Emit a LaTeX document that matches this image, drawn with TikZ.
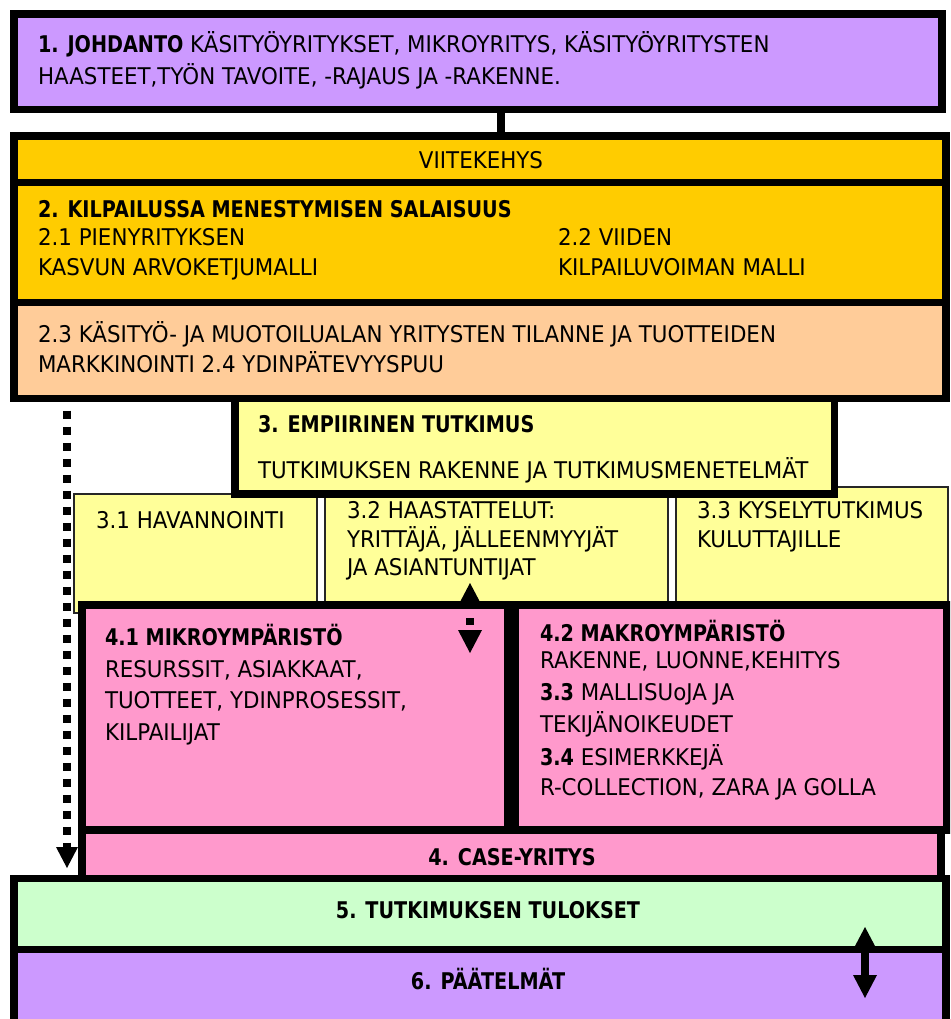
\documentclass[tikz,border=0pt]{standalone}
\usepackage{fontspec}
\newfontfamily\rf{DejaVu Sans}[FakeStretch=0.93]
\newfontfamily\bff{DejaVu Sans Bold}[FakeStretch=0.835]
\usetikzlibrary{arrows.meta}
\definecolor{lilac}{HTML}{CC99FF}
\definecolor{amber}{HTML}{FFCC00}
\definecolor{peach}{HTML}{FFCC99}
\definecolor{paleyellow}{HTML}{FFFF99}
\definecolor{rosepink}{HTML}{FF99CC}
\definecolor{mint}{HTML}{CCFFCC}
\newcommand\hb[1]{{\bff #1}}

\begin{document}
\begin{tikzpicture}[x=1pt,y=-1pt,
  frame/.style={draw=black, line width=7.5pt, inner sep=0pt, outer sep=0pt, anchor=north west},
  subbox/.style={draw=black!85, line width=1.5pt, fill=paleyellow, inner sep=0pt, outer sep=0pt, anchor=north west},
  txt/.style={anchor=base west, inner sep=0pt, outer sep=0pt, font=\rf\fontsize{23}{27}\selectfont},
  ctxt/.style={txt, anchor=base},
]
\useasboundingbox (0,0) rectangle (950,1019);
\clip (0,0) rectangle (950,1019);

% chapter 1
\node[frame, fill=lilac, minimum width=928pt, minimum height=95.5pt] (b1) at (14,14) {};
% framework block
\node[frame, fill=amber, minimum width=932pt, minimum height=46.5pt] (viite) at (14,136) {};
\node[frame, fill=amber, minimum width=932pt, minimum height=120pt] (s2) at (14,182.5) {};
\node[frame, fill=peach, minimum width=932pt, minimum height=96pt] (s23) at (14,302.5) {};
% empirical sub-boxes
\node[subbox, minimum width=243pt, minimum height=119pt] (b31) at (74,494) {};
\node[subbox, minimum width=343pt, minimum height=114pt] (b32) at (325,494) {};
\node[subbox, minimum width=272pt, minimum height=117pt] (b33) at (676,487) {};
% empirical study
\node[frame, fill=paleyellow, minimum width=599.5pt, minimum height=95.5pt] (b3) at (235,398.5) {};
% case company
\node[frame, fill=rosepink, minimum width=426pt, minimum height=225pt] (b41) at (82,605) {};
\node[frame, fill=rosepink, minimum width=432pt, minimum height=225pt] (b42) at (515,605) {};
\node[frame, fill=rosepink, minimum width=859pt, minimum height=48.5pt] (bcase) at (82,830) {};
% results and conclusions
\node[frame, fill=mint, minimum width=932pt, minimum height=71pt] (b5) at (14,878.5) {};
\node[frame, fill=lilac, minimum width=932pt, minimum height=80.5pt] (b6) at (14,949.5) {};

% texts
\node[txt] (t1a) at (38,53) {\hb{1. JOHDANTO} KÄSITYÖYRITYKSET, MIKROYRITYS, KÄSITYÖYRITYSTEN};
\node[txt] (t1b) at (38,85) {HAASTEET,TYÖN TAVOITE, -RAJAUS JA -RAKENNE.};
\node[ctxt] (tv) at (481,169) {VIITEKEHYS};
\node[txt] (t2) at (38,217) {\hb{2. KILPAILUSSA MENESTYMISEN SALAISUUS}};
\node[txt] (t21a) at (38,245) {2.1 PIENYRITYKSEN};
\node[txt] (t21b) at (38,275) {KASVUN ARVOKETJUMALLI};
\node[txt] (t22a) at (558,245) {2.2 VIIDEN};
\node[txt] (t22b) at (558,275) {KILPAILUVOIMAN MALLI};
\node[txt] (t23a) at (38,342) {2.3 KÄSITYÖ- JA MUOTOILUALAN YRITYSTEN TILANNE JA TUOTTEIDEN};
\node[txt] (t23b) at (38,372) {MARKKINOINTI 2.4 YDINPÄTEVYYSPUU};
\node[txt] (t3a) at (258,432) {\hb{3. EMPIIRINEN TUTKIMUS}};
\node[txt] (t3b) at (258,478) {TUTKIMUKSEN RAKENNE JA TUTKIMUSMENETELMÄT};
\node[txt] (t31) at (96,528) {3.1 HAVANNOINTI};
\node[txt] (t32a) at (347,518) {3.2 HAASTATTELUT:};
\node[txt] (t32b) at (347,547) {YRITTÄJÄ, JÄLLEENMYYJÄT};
\node[txt] (t32c) at (347,575) {JA ASIANTUNTIJAT};
\node[txt] (t33a) at (697,518) {3.3 KYSELYTUTKIMUS};
\node[txt] (t33b) at (697,547) {KULUTTAJILLE};
\node[txt] (t41a) at (105,645) {\hb{4.1 MIKROYMPÄRISTÖ}};
\node[txt] (t41b) at (105,677) {RESURSSIT, ASIAKKAAT,};
\node[txt] (t41c) at (105,708) {TUOTTEET, YDINPROSESSIT,};
\node[txt] (t41d) at (105,740) {KILPAILIJAT};
\node[txt] (t42a) at (540,641) {\hb{4.2 MAKROYMPÄRISTÖ}};
\node[txt] (t42b) at (540,668) {RAKENNE, LUONNE,KEHITYS};
\node[txt] (t42c) at (540,700) {\hb{3.3} MALLISUoJA JA};
\node[txt] (t42d) at (540,732) {TEKIJÄNOIKEUDET};
\node[txt] (t42e) at (540,765) {\hb{3.4} ESIMERKKEJÄ};
\node[txt] (t42f) at (540,795) {R-COLLECTION, ZARA JA GOLLA};
\node[ctxt] (tcase) at (512,865) {\hb{4. CASE-YRITYS}};
\node[ctxt] (t5) at (488,918) {\hb{5. TUTKIMUKSEN TULOKSET}};
\node[ctxt] (t6) at (488,989) {\hb{6. PÄÄTELMÄT}};

% connectors
\coordinate (cx) at (501,0);
\draw[line width=8pt] (b1.south -| cx) -- (viite.north -| cx);

\coordinate (dx) at (67,0);
\draw[line width=7.5pt, dash pattern=on 8pt off 8pt, dash phase=8pt, shorten <=4pt, shorten >=10.5pt,
  -{Triangle[length=21pt,width=22pt,line width=0pt]}] (s23.south -| dx) -- (b5.north -| dx);

\coordinate (m1) at (470,583);
\coordinate (m2) at (470,653);
\draw[line width=7.5pt, dash pattern=on 7pt off 16pt, dash phase=7pt,
  {Triangle[length=19pt,width=20pt,line width=0pt]}-{Triangle[length=23pt,width=24pt,line width=0pt]}] (m1) -- (m2);

\coordinate (r1) at (865,927);
\coordinate (r2) at (865,998);
\draw[line width=8pt,
  {Triangle[length=19pt,width=20pt,line width=0pt]}-{Triangle[length=23pt,width=24pt,line width=0pt]}] (r1) -- (r2);
\end{tikzpicture}
\end{document}
